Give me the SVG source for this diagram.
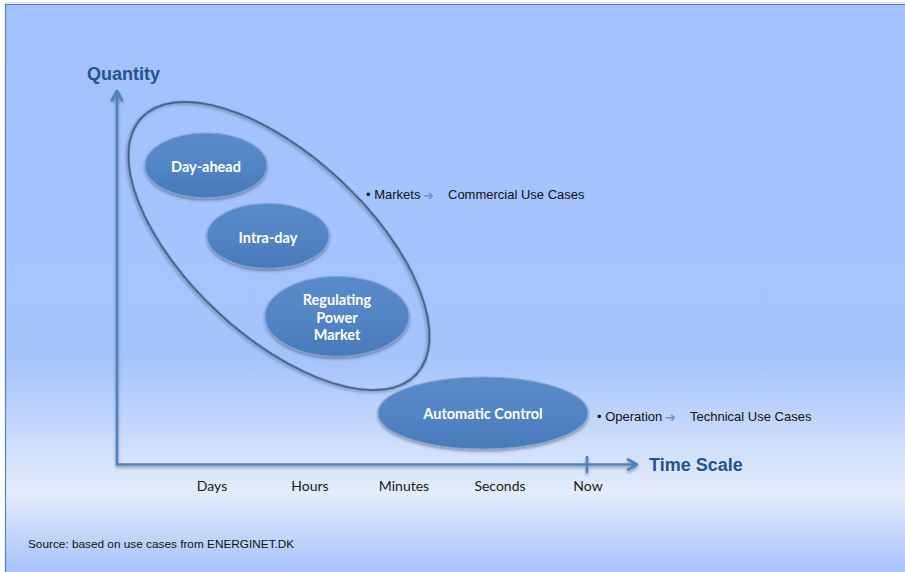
<svg xmlns="http://www.w3.org/2000/svg" width="905" height="572" viewBox="0 0 905 572">
<defs>
<linearGradient id="bg" x1="0" y1="0" x2="0" y2="1">
<stop offset="0" stop-color="#a3c2fd"/>
<stop offset="0.63" stop-color="#a6c4fc"/>
<stop offset="0.86" stop-color="#e4ecfb"/>
<stop offset="1" stop-color="#a6c3fb"/>
</linearGradient>
<linearGradient id="node" x1="0" y1="0" x2="0" y2="1">
<stop offset="0" stop-color="#5a8bc9"/>
<stop offset="0.5" stop-color="#5285c5"/>
<stop offset="1" stop-color="#4879b9"/>
</linearGradient>
<filter id="sh" x="-20%" y="-20%" width="140%" height="150%">
<feGaussianBlur in="SourceAlpha" stdDeviation="1.5"/>
<feOffset dx="0" dy="2" result="b"/>
<feComponentTransfer><feFuncA type="linear" slope="0.35"/></feComponentTransfer>
<feMerge><feMergeNode/><feMergeNode in="SourceGraphic"/></feMerge>
</filter>
<style>
.node ellipse{fill:url(#node);stroke:#7ea4d6;stroke-width:1.2;filter:url(#sh)}
.lbl{font-family:Lato,"Open Sans",sans-serif;font-weight:bold;font-size:14.5px;fill:#ffffff;text-anchor:middle}
.axis{stroke:#4f81bd;stroke-width:2.6;fill:none;stroke-linecap:round;stroke-linejoin:round}
.title{font-family:"Liberation Sans",Arial,sans-serif;font-weight:bold;font-size:18px;fill:#24548c}
.tick{font-family:Lato,"Open Sans",sans-serif;font-size:14px;fill:#1a1a1a;text-anchor:middle}
.note{font-family:"Liberation Sans",Arial,sans-serif;font-size:13px;fill:#111111}
.arr{font-family:"DejaVu Sans",sans-serif;font-size:13px;font-weight:bold;fill:#6b96cb}
</style>
</defs>
<rect x="0" y="0" width="905" height="572" fill="#ffffff"/>
<rect x="5" y="4" width="900" height="568" fill="url(#bg)"/>
<line x1="5" y1="3" x2="905" y2="3" stroke="#d0d4dc" stroke-width="1"/>
<line x1="5" y1="4.5" x2="905" y2="4.5" stroke="#4f81bd" stroke-width="1.2"/>
<line x1="5.5" y1="4" x2="5.5" y2="572" stroke="#4f81bd" stroke-width="1.2"/>

<g id="axes" filter="url(#sh)">
<path class="axis" d="M117,464 V91 M112,100 L117,91 L122,100"/>
<path class="axis" d="M117,464.5 H637 M628,459.5 L637,464.5 L628,469.5"/>
<path class="axis" d="M587,457 V472"/>
</g>

<g id="connectors">
<ellipse id="markets-group" cx="279" cy="246" rx="188" ry="90" transform="rotate(43 279 246)" fill="none" stroke="#3d5f86" stroke-width="2" filter="url(#sh)"/>
</g>

<g id="day-ahead" class="node">
<ellipse cx="206" cy="165.5" rx="61" ry="32.5"/>
<text class="lbl" x="206" y="171.5">Day-ahead</text>
</g>
<g id="intra-day" class="node">
<ellipse cx="268" cy="236" rx="61" ry="32.5"/>
<text class="lbl" x="268" y="242.5">Intra-day</text>
</g>
<g id="regulating" class="node">
<ellipse cx="337" cy="316.5" rx="72" ry="40"/>
<text class="lbl" x="337" y="304.5">Regulating</text>
<text class="lbl" x="337" y="322.5">Power</text>
<text class="lbl" x="337" y="340">Market</text>
</g>
<g id="automatic" class="node">
<ellipse cx="483" cy="413" rx="105" ry="36"/>
<text class="lbl" x="483" y="419">Automatic Control</text>
</g>

<text class="title" x="87" y="80">Quantity</text>
<text class="title" x="649" y="471">Time Scale</text>

<g id="notes">
<text class="note" x="366" y="199">• Markets</text>
<text class="arr" x="423" y="199.5">➔</text>
<text class="note" x="448" y="199">Commercial Use Cases</text>
<text class="note" x="597" y="421">• Operation</text>
<text class="arr" x="665" y="421.5">➔</text>
<text class="note" x="690" y="421">Technical Use Cases</text>
</g>

<g id="ticks">
<text class="tick" x="212" y="491">Days</text>
<text class="tick" x="310" y="491">Hours</text>
<text class="tick" x="404" y="491">Minutes</text>
<text class="tick" x="500" y="491">Seconds</text>
<text class="tick" x="588" y="491">Now</text>
</g>

<text x="28" y="548" font-family="'Liberation Sans',Arial,sans-serif" font-size="11.8" fill="#111111">Source: based on use cases from ENERGINET.DK</text>
</svg>
